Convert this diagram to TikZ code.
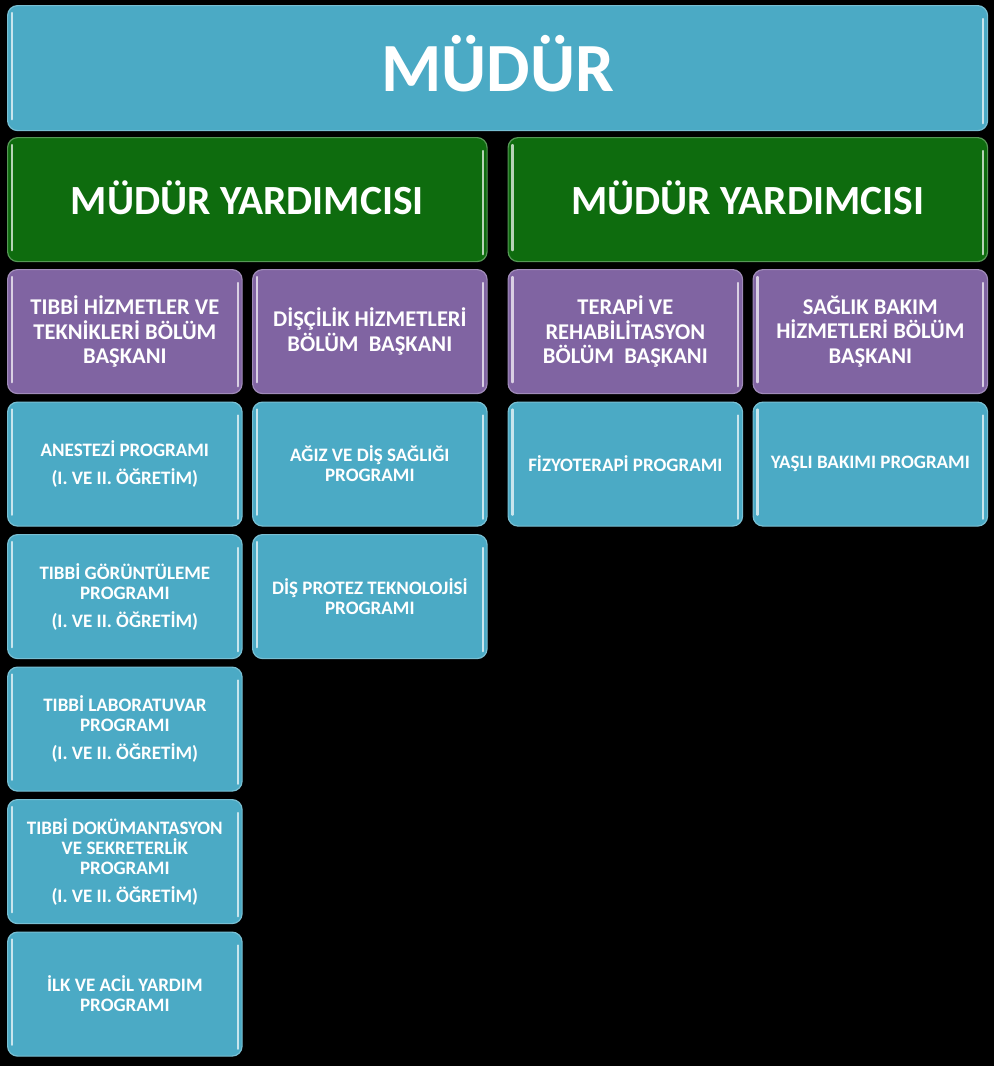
\documentclass[tikz,border=0pt]{standalone}
\usepackage{fontspec}
\setmainfont{Carlito}
\definecolor{cyanbox}{RGB}{75,170,197}
\definecolor{greenbox}{RGB}{14,108,14}
\definecolor{purplebox}{RGB}{128,100,162}
\tikzset{
  box/.style={rounded corners=10pt, anchor=north west, inner sep=0pt, align=center, text=white,
    minimum width=234.5pt, minimum height=124pt, line width=1.2pt},
  cbox/.style={box, fill=cyanbox, draw=cyanbox!75!white, font=\fontsize{19}{20}\selectfont\bfseries},
  pbox/.style={box, fill=purplebox, draw=purplebox!75!white, font=\fontsize{22.5}{24.5}\selectfont\bfseries},
  gbox/.style={box, fill=greenbox, draw=greenbox!70!white, minimum width=479.5pt, font=\fontsize{41.5}{46}\selectfont\bfseries},
  tbox/.style={box, fill=cyanbox, draw=cyanbox!75!white, minimum width=980pt, minimum height=125pt, font=\fontsize{69}{80}\selectfont\bfseries},
  gl/.style={line width=2.4pt, line cap=round, draw=white, opacity=0.7},
}
\newcommand{\glossit}[1]{%
  \draw[gl] ([xshift=5pt,yshift=-8pt]#1.north west) -- ([xshift=5pt,yshift=12pt]#1.south west);
  \draw[gl] ([xshift=-5pt,yshift=-14pt]#1.north east) -- ([xshift=-5pt,yshift=8pt]#1.south east);}
\begin{document}
\begin{tikzpicture}[x=1pt,y=-1pt]
\fill[black] (0,0) rectangle (994,1066);
\useasboundingbox (0,0) rectangle (994,1066);
% top
\node[tbox] (mudur) at (7,5) {\raisebox{9pt}{MÜDÜR}};
\node[gbox] (my1) at (7,137) {\raisebox{3pt}{MÜDÜR YARDIMCISI}};
\node[gbox] (my2) at (507.5,137) {\raisebox{3pt}{MÜDÜR YARDIMCISI}};
% department heads
\node[pbox] (b1) at (7,269) {TIBBİ HİZMETLER VE\\TEKNİKLERİ BÖLÜM\\BAŞKANI};
\node[pbox] (b2) at (252,269) {DİŞÇİLİK HİZMETLERİ\\BÖLÜM~ BAŞKANI};
\node[pbox] (b3) at (507.5,269) {TERAPİ VE\\REHABİLİTASYON\\BÖLÜM~ BAŞKANI};
\node[pbox] (b4) at (752.5,269) {SAĞLIK BAKIM\\HİZMETLERİ BÖLÜM\\BAŞKANI};
% programs column 1
\node[cbox] (p11) at (7,401.5) {ANESTEZİ PROGRAMI\\[8pt](I. VE II. ÖĞRETİM)};
\node[cbox] (p12) at (7,534) {TIBBİ GÖRÜNTÜLEME\\PROGRAMI\\[8pt](I. VE II. ÖĞRETİM)};
\node[cbox] (p13) at (7,666.5) {TIBBİ LABORATUVAR\\PROGRAMI\\[8pt](I. VE II. ÖĞRETİM)};
\node[cbox] (p14) at (7,799) {TIBBİ DOKÜMANTASYON\\VE SEKRETERLİK\\PROGRAMI\\[8pt](I. VE II. ÖĞRETİM)};
\node[cbox] (p15) at (7,931.5) {İLK VE ACİL YARDIM\\PROGRAMI};
% column 2
\node[cbox] (p21) at (252,401.5) {AĞIZ VE DİŞ SAĞLIĞI\\PROGRAMI};
\node[cbox] (p22) at (252,534) {DİŞ PROTEZ TEKNOLOJİSİ\\PROGRAMI};
% column 3, 4
\node[cbox] (p31) at (507.5,401.5) {FİZYOTERAPİ PROGRAMI};
\node[cbox] (p41) at (752.5,401.5) {YAŞLI BAKIMI PROGRAMI};
\foreach \n in {mudur,my1,my2,b1,b2,b3,b4,p11,p12,p13,p14,p15,p21,p22,p31,p41}{\glossit{\n}}
\end{tikzpicture}
\end{document}
